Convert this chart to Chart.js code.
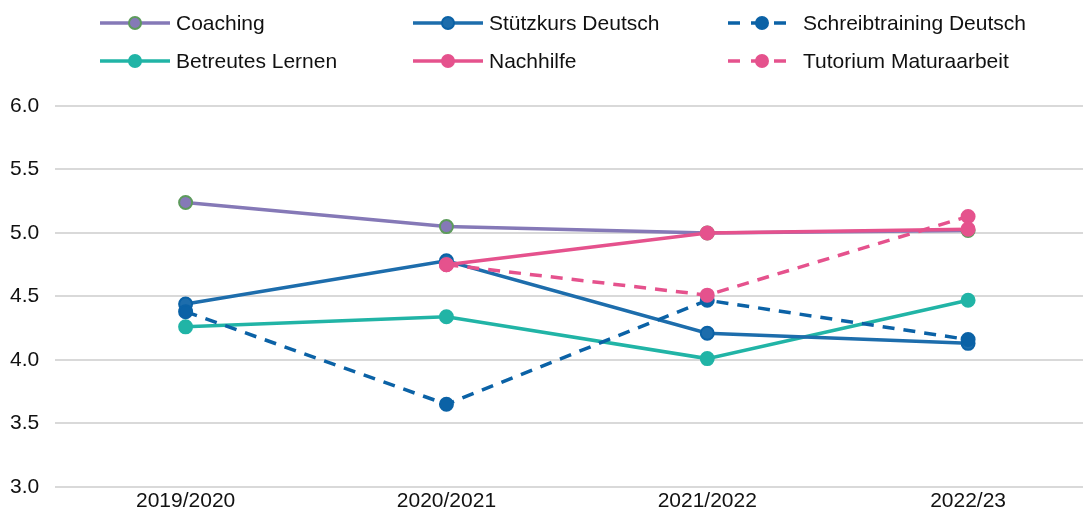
<!DOCTYPE html>
<html>
<head>
<meta charset="utf-8">
<script src="https://cdn.jsdelivr.net/npm/chart.js@4"></script>
<style>
  body { margin: 0; overflow: hidden; background: #fff; font-family: "Liberation Sans", Arial, sans-serif; }
  #wrap { position: relative; width: 1107px; height: 516px; }
  .item { position: absolute; display: flex; align-items: center; font-size: 21px; color: #111; white-space: nowrap; }
  .item svg { margin-right: 6px; }
</style>
</head>
<body>
<div id="wrap">
  <canvas id="chart"></canvas>
  <div id="legend"></div>
</div>
<script>
const years = ["2019/2020", "2020/2021", "2021/2022", "2022/23"];

const coaching = [5.24, 5.05, 5.0, 5.02];
const stuetzkurs = [4.44, 4.78, 4.21, 4.13];
const schreibtraining = [4.38, 3.65, 4.47, 4.16];
const betreutesLernen = [4.26, 4.34, 4.01, 4.47];
const nachhilfe = [null, 4.75, 5.0, 5.03];
const tutorium = [null, 4.75, 4.51, 5.13];

const yMin = 3.0;
const yMax = 6.0;
const yStep = 0.5;

/*
  - order: kleinere Zahl wird oben gezeichnet
*/
const series = [
  { label: "Coaching", data: coaching, color: "#8579b7", pointBorder: "#5d9b5c", dashed: false, order: 3 },
  { label: "Stützkurs Deutsch", data: stuetzkurs, color: "#1d6dac", pointBorder: "#0b62a6", dashed: false, order: 5 },
  { label: "Schreibtraining Deutsch", data: schreibtraining, color: "#0b62a6", pointBorder: "#0b62a6", dashed: true, order: 4 },
  { label: "Betreutes Lernen", data: betreutesLernen, color: "#21b4a6", pointBorder: "#21b4a6", dashed: false, order: 6 },
  { label: "Nachhilfe", data: nachhilfe, color: "#e5528d", pointBorder: "#e5528d", dashed: false, order: 1 },
  { label: "Tutorium Maturaarbeit", data: tutorium, color: "#e5528d", pointBorder: "#e5528d", dashed: true, order: 2 },
];

function buildDatasets() {
  return series.map((s) => {
    return {
      label: s.label,
      data: s.data,
      borderColor: s.color,
      backgroundColor: s.color,
      pointBackgroundColor: s.color,
      pointBorderColor: s.pointBorder,
      pointBorderWidth: 2,
      pointRadius: 6.5,
      borderWidth: 3.5,
      borderDash: s.dashed ? [12, 9] : [],
      order: s.order,
      spanGaps: false,
    };
  });
}

function buildLegend() {
  const legend = document.getElementById("legend");
  const columns = [100, 413, 727];
  const rows = [23, 61];

  series.forEach((s, i) => {
    const item = document.createElement("div");
    item.className = "item";
    item.style.left = columns[i % 3] + "px";
    item.style.top = rows[Math.floor(i / 3)] - 13 + "px";

    const dash = s.dashed ? 'stroke-dasharray="12 11" stroke-dashoffset="-1"' : "";
    item.innerHTML =
      '<svg width="70" height="26">' +
      '<line x1="0" y1="13" x2="70" y2="13" stroke="' + s.color + '" stroke-width="3.5" ' + dash + "/>" +
      '<circle cx="35" cy="13" r="6" fill="' + s.color + '" stroke="' + s.pointBorder + '" stroke-width="2"/>' +
      "</svg><span>" + s.label + "</span>";
    legend.appendChild(item);
  });
}

function drawChart() {
  const ctx = document.getElementById("chart").getContext("2d");

  new Chart(ctx, {
    type: "line",
    data: {
      labels: years,
      datasets: buildDatasets(),
    },
    options: {
      responsive: true,
      maintainAspectRatio: false,
      animation: false,
      layout: {
        padding: { top: 106, left: -6, right: 0, bottom: 0 },
      },
      plugins: {
        legend: { display: false },
        tooltip: { enabled: false },
      },
      scales: {
        x: {
          offset: true,
          grid: { display: false, drawTicks: false },
          border: { display: false },
          ticks: {
            color: "#111",
            padding: 2,
            font: { family: "Liberation Sans", size: 21 },
            maxRotation: 0,
          },
        },
        y: {
          min: yMin,
          max: yMax,
          grid: { color: "#d9d9d9", lineWidth: 2, drawTicks: false },
          border: { display: false },
          ticks: {
            stepSize: yStep,
            color: "#111",
            padding: 16,
            font: { family: "Liberation Sans", size: 21 },
            callback: (value) => value.toFixed(1),
          },
        },
      },
    },
  });
}

buildLegend();
drawChart();
</script>
</body>
</html>
